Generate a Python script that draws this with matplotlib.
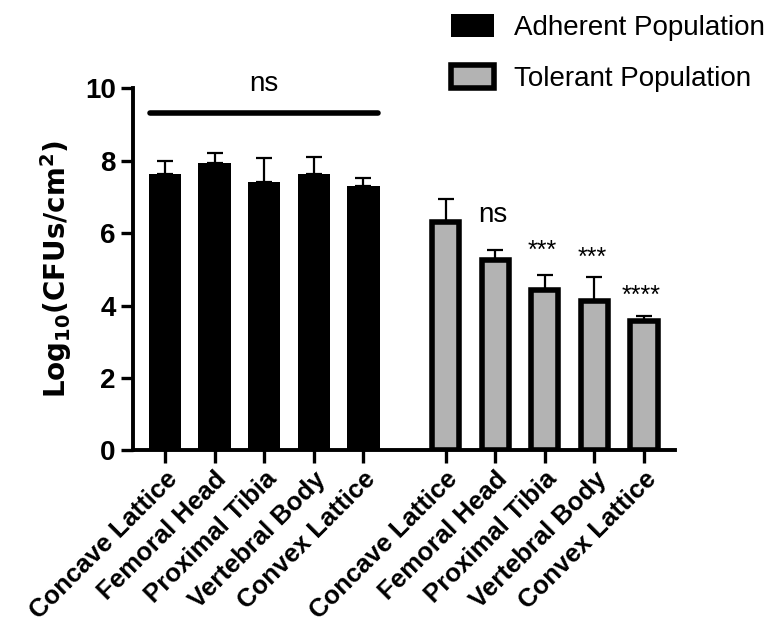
import numpy as np
import matplotlib
matplotlib.use("Agg")
import matplotlib.pyplot as plt
from matplotlib.patches import Patch

plt.rcParams["font.family"] = ["Liberation Sans", "DejaVu Sans"]

SITES = ["Concave Lattice", "Femoral Head", "Proximal Tibia",
         "Vertebral Body", "Convex Lattice"]
ADHERENT     = [7.62, 7.94, 7.40, 7.63, 7.29]
ADHERENT_ERR = [0.38, 0.28, 0.68, 0.48, 0.23]
TOLERANT     = [6.31, 5.27, 4.44, 4.12, 3.58]
TOLERANT_ERR = [0.63, 0.26, 0.40, 0.67, 0.14]
TOL_SIG      = ["", "ns", "***", "***", "****"]
TOL_SIG_Y    = [None, 6.50, 5.50, 5.33, 4.27]
ALL_NS_Y     = 9.33

GAP = 5.66
x_a = np.arange(len(SITES))
x_t = np.arange(len(SITES)) + GAP

fig = plt.figure(figsize=(7.79, 6.30), dpi=100)
ax = fig.add_axes([0.1701, 0.2852, 0.6964, 0.5746])

w = 0.655
ax.bar(x_a, ADHERENT, width=w, color="black", edgecolor="black", linewidth=0)
ax.bar(x_t, TOLERANT, width=w - 0.11, color="#b3b3b3", edgecolor="black",
       linewidth=4)
ax.errorbar(x_a, ADHERENT, yerr=[np.zeros(5), ADHERENT_ERR], fmt="none",
            ecolor="black", elinewidth=1.6, capsize=6, capthick=1.6)
ax.errorbar(x_t, TOLERANT, yerr=[np.zeros(5), TOLERANT_ERR], fmt="none",
            ecolor="black", elinewidth=1.6, capsize=6, capthick=1.6, zorder=1)

# significance markers
ax.plot([x_a[0] - 0.3, x_a[-1] + 0.3], [ALL_NS_Y, ALL_NS_Y], color="black",
        lw=4, solid_capstyle="round", clip_on=False)
ax.text(x_a.mean(), 10.12, "ns", ha="center", va="center", fontsize=20)
for xi, y, s in zip(x_t, TOL_SIG_Y, TOL_SIG):
    if not s:
        continue
    fs = 20 if s == "ns" else 18
    ax.text(xi - 0.05, y, s, ha="center", va="center", fontsize=fs)

ax.set_xlim(-0.655, x_t[-1] + 0.625)
ax.set_ylim(0, 10)
ax.set_yticks([0, 2, 4, 6, 8, 10])
ax.set_yticklabels(["0", "2", "4", "6", "8", "10"], fontsize=20, fontweight="bold")
ax.set_xticks(np.concatenate([x_a, x_t]))
ax.set_xticklabels(SITES + SITES, rotation=45, ha="right",
                   rotation_mode="anchor", fontsize=18.5, fontweight="bold")
ax.set_ylabel(r"$\mathbf{Log_{10}(CFUs/cm^2)}$", fontsize=20, labelpad=8)

for s in ["top", "right"]:
    ax.spines[s].set_visible(False)
for s in ["left", "bottom"]:
    ax.spines[s].set_linewidth(2.8)
ax.tick_params(axis="both", width=2.4, length=9, direction="out", pad=3)

handles = [Patch(facecolor="black", edgecolor="black", linewidth=0),
           Patch(facecolor="#b3b3b3", edgecolor="black", linewidth=4)]
fig.legend(handles, ["Adherent Population", "Tolerant Population"],
           loc="upper left", bbox_to_anchor=(451 / 779, 1 - 14 / 630),
           frameon=False, fontsize=20, handlelength=1.55, handleheight=0.9,
           handletextpad=0.72, labelspacing=0.85, borderpad=0,
           borderaxespad=0)

fig.savefig("out.png", dpi=100)
